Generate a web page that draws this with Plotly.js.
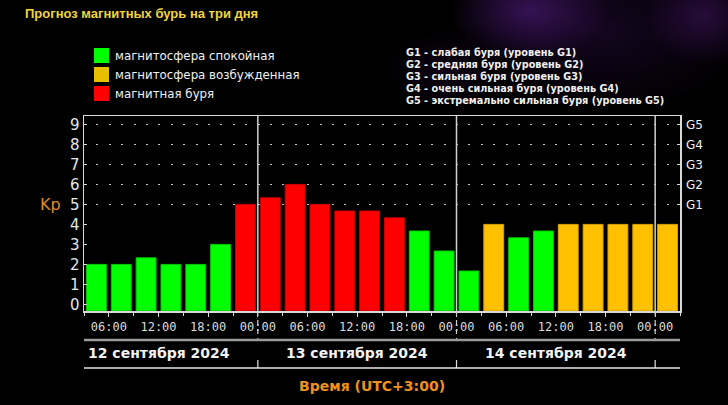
<!DOCTYPE html>
<html>
<head>
<meta charset="utf-8">
<script src="https://cdn.plot.ly/plotly-3.0.1.min.js"></script>
<style>
  html, body { margin: 0; padding: 0; }
  body {
    width: 728px; height: 405px; overflow: hidden;
    background-color: #000;
    background-image:
      radial-gradient(ellipse 80px 50px at 530px 10px, rgba(90,30,140,0.55), rgba(0,0,0,0)),
      radial-gradient(ellipse 60px 50px at 705px 15px, rgba(80,25,120,0.45), rgba(0,0,0,0)),
      radial-gradient(ellipse 150px 85px at 600px 30px, rgba(45,12,70,0.45), rgba(0,0,0,0)),
      radial-gradient(ellipse 60px 40px at 445px 70px, rgba(40,10,60,0.35), rgba(0,0,0,0));
  }
  #chart { width: 728px; height: 405px; }
</style>
</head>
<body>
<div id="chart"></div>
<script>
// ---- data ----
const title = 'Прогноз магнитных бурь на три дня';
const intervalStart = [
  '2024-09-12 03:00','2024-09-12 06:00','2024-09-12 09:00','2024-09-12 12:00',
  '2024-09-12 15:00','2024-09-12 18:00','2024-09-12 21:00','2024-09-13 00:00',
  '2024-09-13 03:00','2024-09-13 06:00','2024-09-13 09:00','2024-09-13 12:00',
  '2024-09-13 15:00','2024-09-13 18:00','2024-09-13 21:00','2024-09-14 00:00',
  '2024-09-14 03:00','2024-09-14 06:00','2024-09-14 09:00','2024-09-14 12:00',
  '2024-09-14 15:00','2024-09-14 18:00','2024-09-14 21:00','2024-09-15 00:00'
];
const kp = [2.0, 2.0, 2.33, 2.0, 2.0, 3.0, 5.0, 5.33,
            6.0, 5.0, 4.67, 4.67, 4.33, 3.67, 2.67, 1.67,
            4.0, 3.33, 3.67, 4.0, 4.0, 4.0, 4.0, 4.0];
const status = ['quiet','quiet','quiet','quiet','quiet','quiet','storm','storm',
                'storm','storm','storm','storm','storm','quiet','quiet','quiet',
                'active','quiet','quiet','active','active','active','active','active'];
const statusNames = ['quiet','active','storm'];
const statusLabels = ['магнитосфера спокойная','магнитосфера возбужденная','магнитная буря'];
const statusColors = {quiet:'#00ff00', active:'#ffc000', storm:'#ff0000'};
const statusEdge = {quiet:'#00c800', active:'#d8a000', storm:'#c80000'};
const legendSwatch = {quiet:'#00ff00', active:'#e6c000', storm:'#ff0000'};
const kpTicks = [0,1,2,3,4,5,6,7,8,9];
const gTicks = [5,6,7,8,9];
const gLabels = ['G1','G2','G3','G4','G5'];
const gDescriptions = [
  'G1 - слабая буря (уровень G1)',
  'G2 - средняя буря (уровень G2)',
  'G3 - сильная буря (уровень G3)',
  'G4 - очень сильная буря (уровень G4)',
  'G5 - экстремально сильная буря (уровень G5)'
];
const dayBoundaries = ['2024-09-13 00:00','2024-09-14 00:00','2024-09-15 00:00'];
const dayCenters = ['2024-09-12 12:00','2024-09-13 12:00','2024-09-14 12:00'];
const dayLabels = ['12 сентября 2024','13 сентября 2024','14 сентября 2024'];
const xTitle = 'Время (UTC+3:00)';
const yTitle = 'Kp';

// ---- layout geometry ----
const W = 728, H = 405;
const M = {l:84, r:48, t:116, b:94};
const PW = W - M.l - M.r, PH = H - M.t - M.b;
const px = v => (v - M.l) / PW;          // pixel x -> paper
const py = v => (H - M.b - v) / PH;      // pixel y -> paper
const yMin = -0.33, yMax = 9.42;
const H3 = 3 * 3600 * 1000;

const trace = {
  type: 'bar',
  x: intervalStart,
  y: kp.map(v => v - yMin),
  base: yMin,
  offset: 0.1 * H3,
  width: 0.8 * H3,
  marker: {
    color: status.map(s => statusColors[s]),
    line: {color: status.map(s => statusEdge[s]), width: 1}
  },
  hoverinfo: 'skip',
  showlegend: false
};

const shapes = [];
const annotations = [];

// day separators
dayBoundaries.forEach(d => {
  shapes.push({type:'line', xref:'x', yref:'paper', x0:d, x1:d, y0:0, y1:1,
               line:{color:'#d0d0d0', width:1.5}, layer:'above'});
  shapes.push({type:'line', xref:'x', yref:'paper', x0:d, x1:d, y0:py(311), y1:py(339),
               line:{color:'#d0d0d0', width:1.2, dash:'5px,4px'}});
  shapes.push({type:'line', xref:'x', yref:'paper', x0:d, x1:d, y0:py(360), y1:py(368),
               line:{color:'#e0e0e0', width:1.2}});
});
// rule lines under time labels
shapes.push({type:'line', xref:'paper', yref:'paper', x0:px(84), x1:px(680), y0:py(340), y1:py(340),
             line:{color:'#9a9a9a', width:2.5}});
shapes.push({type:'line', xref:'paper', yref:'paper', x0:px(84), x1:px(680), y0:py(368), y1:py(368),
             line:{color:'#e8e8e8', width:1.5}});

// day labels
dayCenters.forEach((d, i) => {
  annotations.push({xref:'x', yref:'paper', x:d, y:py(353), text:dayLabels[i], showarrow:false,
    xanchor:'center', yanchor:'middle',
    font:{family:'DejaVu Sans', size:14, color:'#f2f2f2', weight:'bold'}});
});

// title
annotations.push({xref:'paper', yref:'paper', x:px(23), y:py(13), text:title, showarrow:false,
  xanchor:'left', yanchor:'middle',
  font:{family:'Liberation Sans', size:13, color:'#f0d43c', weight:'bold'}});

// x title
annotations.push({xref:'paper', yref:'paper', x:px(372), y:py(386), text:xTitle, showarrow:false,
  xanchor:'center', yanchor:'middle',
  font:{family:'DejaVu Sans', size:14, color:'#f0901e', weight:'bold'}});

// y title (Kp)
annotations.push({xref:'paper', yref:'y', x:px(50), y:5, text:yTitle, showarrow:false,
  xanchor:'center', yanchor:'middle',
  font:{family:'DejaVu Sans', size:16, color:'#e08a2a'}});

// status legend
const legendY = [55.5, 74.5, 93.5];
statusNames.forEach((s, i) => {
  shapes.push({type:'rect', xref:'paper', yref:'paper',
    x0:px(94), x1:px(109), y0:py(legendY[i]-7.5), y1:py(legendY[i]+7.5),
    fillcolor:legendSwatch[s], line:{width:0}});
  annotations.push({xref:'paper', yref:'paper', x:px(113), y:py(legendY[i]), text:statusLabels[i],
    showarrow:false, xanchor:'left', yanchor:'middle',
    font:{family:'DejaVu Sans', size:11.8, color:'#f0f0f0'}});
});

// G legend
gDescriptions.forEach((t, i) => {
  annotations.push({xref:'paper', yref:'paper', x:px(404), y:py(52 + 12*i), text:t,
    showarrow:false, xanchor:'left', yanchor:'middle',
    font:{family:'DejaVu Sans Condensed, DejaVu Sans', size:10.8, color:'#f0f0f0', weight:'bold'}});
});

const layout = {
  width: W, height: H,
  margin: M,
  paper_bgcolor: 'rgba(0,0,0,0)',
  plot_bgcolor: '#000',
  showlegend: false,
  bargap: 0,
  xaxis: {
    type: 'date',
    range: ['2024-09-12 03:00', '2024-09-15 03:00'],
    tick0: '2024-09-12 00:00', dtick: 2 * H3,
    tickformat: '%H:%M',
    ticks: 'outside', ticklen: 4, tickwidth: 1, tickcolor: '#d8d8d8',
    minor: {dtick: H3, tick0: '2024-09-12 00:00', ticks: 'outside', ticklen: 3, tickcolor: '#d8d8d8', showgrid: false},
    showline: true, linecolor: '#d8d8d8', linewidth: 1.5, mirror: true,
    showgrid: false, zeroline: false, fixedrange: true,
    tickfont: {family: 'DejaVu Sans Mono', size: 12, color: '#dcdcdc'}
  },
  yaxis: {
    range: [yMin, yMax],
    tickvals: kpTicks,
    ticks: 'inside', ticklen: 3, tickcolor: '#d8d8d8',
    showline: true, linecolor: '#d8d8d8', linewidth: 1.5, mirror: true,
    showgrid: false, zeroline: false, fixedrange: true,
    tickfont: {family: 'DejaVu Sans', size: 15, color: '#e6e6e6'}
  },
  yaxis2: {
    overlaying: 'y', side: 'right',
    range: [yMin, yMax],
    tickvals: gTicks, ticktext: gLabels,
    ticks: 'inside', ticklen: 3, tickcolor: '#d8d8d8',
    ticklabelstandoff: 5,
    showgrid: true, gridcolor: '#c8c8c8', gridwidth: 1.5, griddash: '2px,10.4px',
    showline: false, zeroline: false, fixedrange: true,
    tickfont: {family: 'DejaVu Sans', size: 12, color: '#f0f0f0'}
  },
  shapes: shapes,
  annotations: annotations
};

const gridCarrier = {type:'scatter', x:[intervalStart[0]], y:[yMin], yaxis:'y2',
  mode:'markers', marker:{opacity:0}, hoverinfo:'skip', showlegend:false};

Plotly.newPlot('chart', [gridCarrier, trace], layout, {displayModeBar: false, staticPlot: true});
</script>
</body>
</html>
